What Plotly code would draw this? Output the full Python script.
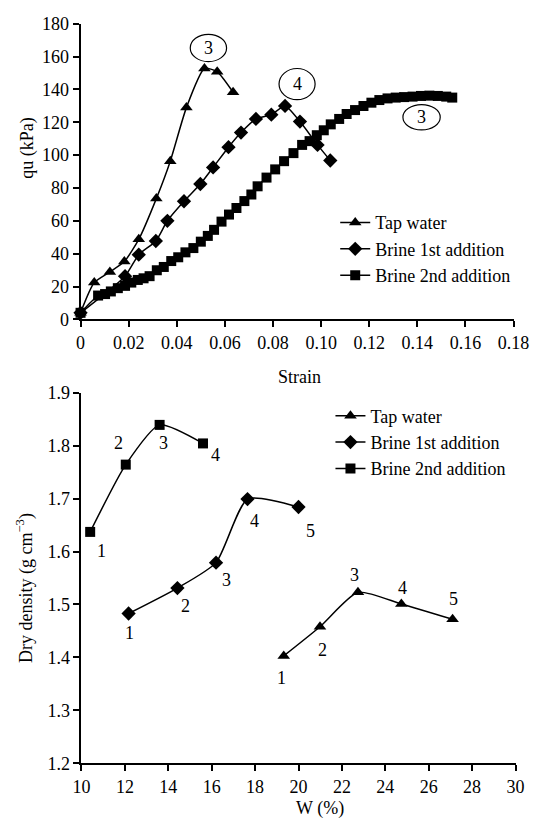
import plotly.graph_objects as go

# ---------------- Data: top chart (qu vs strain) ----------------
tap_strain = [0, 0.0057, 0.0122, 0.0182, 0.0242, 0.0315, 0.0373, 0.044, 0.0515, 0.0568, 0.0634]
tap_qu = [4, 22.4, 28.9, 35.2, 48.7, 73.5, 96.3, 128.9, 152.7, 150.7, 138.3]

b1_strain = [0, 0.0185, 0.0242, 0.0313, 0.0361, 0.043, 0.0498, 0.0551, 0.0615, 0.0667,
             0.0729, 0.0793, 0.085, 0.0912, 0.0985, 0.1038]
b1_qu = [4, 26.3, 39.4, 47.7, 60.0, 71.9, 82.4, 92.5, 104.8, 113.7,
         122.0, 124.6, 129.9, 120.4, 106.2, 96.7]

b2_strain = [0, 0.0073, 0.0102, 0.0126, 0.0155, 0.0185, 0.0211, 0.0238, 0.0262, 0.0287,
             0.0317, 0.0346, 0.0377, 0.0406, 0.0436, 0.0469, 0.050, 0.0529, 0.0555, 0.0586,
             0.0617, 0.0648, 0.0681, 0.071, 0.0736, 0.0773, 0.0809, 0.0846, 0.0885, 0.0921,
             0.0952, 0.0982, 0.1011, 0.104, 0.1075, 0.1106, 0.1141, 0.1176, 0.1209, 0.1242,
             0.1276, 0.131, 0.1345, 0.138, 0.1415, 0.145, 0.1485, 0.152, 0.1545]
b2_qu = [4, 14.5, 15.4, 17.0, 19.0, 20.4, 22.4, 24.0, 25.0, 26.3,
         29.9, 31.9, 35.5, 37.8, 40.8, 43.4, 47.3, 50.8, 54.5, 59.5,
         63.8, 67.8, 72.0, 76.0, 81.0, 86.3, 91.3, 96.3, 101.2, 106.2,
         108.5, 112.1, 115.1, 118.7, 122.0, 125.0, 127.4, 129.9, 131.9, 133.5,
         134.5, 135.0, 135.3, 135.6, 136.0, 136.2, 136.0, 135.6, 135.0]

# circled peak labels (text, strain range, qu range)
circ_text = ["3", "4", "3"]
circ_x0 = [0.0456, 0.0825, 0.1340]
circ_x1 = [0.0607, 0.0975, 0.1495]
circ_y0 = [156.9, 133.7, 115.3]
circ_y1 = [173.5, 152.7, 130.7]

top_xticks = [0, 0.02, 0.04, 0.06, 0.08, 0.10, 0.12, 0.14, 0.16, 0.18]
top_xticktext = ["0", "0.02", "0.04", "0.06", "0.08", "0.10", "0.12", "0.14", "0.16", "0.18"]
top_yticks = [0, 20, 40, 60, 80, 100, 120, 140, 160, 180]

# ---------------- Data: bottom chart (dry density vs W) ----------------
tapW = [19.32, 20.99, 22.74, 24.74, 27.1]
tapD = [1.403, 1.458, 1.523, 1.501, 1.472]
b1W = [12.17, 14.42, 16.2, 17.65, 20.0]
b1D = [1.483, 1.531, 1.579, 1.699, 1.684]
b2W = [10.4, 12.04, 13.6, 15.6]
b2D = [1.637, 1.764, 1.839, 1.804]

bot_xticks = [10, 12, 14, 16, 18, 20, 22, 24, 26, 28, 30]
bot_yticks = [1.2, 1.3, 1.4, 1.5, 1.6, 1.7, 1.8, 1.9]
bot_yticktext = ["1.2", "1.3", "1.4", "1.5", "1.6", "1.7", "1.8", "1.9"]

# label offsets in px (dx, dy) for point numbers
tap_off = [(-2, -22), (3, -23), (-3, 17), (1, 16), (1, 20)]
b1_off = [(1, -20), (8, -18), (10, -17), (7, -22), (12, -24)]
b2_off = [(11, -19), (-7, 22), (4, -18), (12, -12)]

FONT = "Liberation Serif"
FS = 18
W, H = 542, 831

def px2x(p):
    return p / W

def px2y(p):
    return 1 - p / H

fig = go.Figure()

line = dict(color="black", width=1.5, shape="spline", smoothing=0.6)

fig.add_trace(go.Scatter(x=tap_strain, y=tap_qu, mode="lines+markers", name="Tap water",
                         line=line, marker=dict(symbol="triangle-up", size=11, color="black"),
                         xaxis="x", yaxis="y", legend="legend", cliponaxis=False))
fig.add_trace(go.Scatter(x=b1_strain, y=b1_qu, mode="lines+markers", name="Brine 1st addition",
                         line=line, marker=dict(symbol="diamond", size=11, color="black"),
                         xaxis="x", yaxis="y", legend="legend", cliponaxis=False))
fig.add_trace(go.Scatter(x=b2_strain, y=b2_qu, mode="lines+markers", name="Brine 2nd addition",
                         line=line, marker=dict(symbol="square", size=10, color="black"),
                         xaxis="x", yaxis="y", legend="legend", cliponaxis=False))

fig.add_trace(go.Scatter(x=tapW, y=tapD, mode="lines+markers", name="Tap water",
                         line=line, marker=dict(symbol="triangle-up", size=11, color="black"),
                         xaxis="x2", yaxis="y2", legend="legend2", cliponaxis=False))
fig.add_trace(go.Scatter(x=b1W, y=b1D, mode="lines+markers", name="Brine 1st addition",
                         line=line, marker=dict(symbol="diamond", size=11, color="black"),
                         xaxis="x2", yaxis="y2", legend="legend2", cliponaxis=False))
fig.add_trace(go.Scatter(x=b2W, y=b2D, mode="lines+markers", name="Brine 2nd addition",
                         line=line, marker=dict(symbol="square", size=10, color="black"),
                         xaxis="x2", yaxis="y2", legend="legend2", cliponaxis=False))

tfont = dict(family=FONT, size=FS, color="black")
annotations = []
shapes = []
for t, x0, x1, y0, y1 in zip(circ_text, circ_x0, circ_x1, circ_y0, circ_y1):
    shapes.append(dict(type="circle", xref="x", yref="y", x0=x0, x1=x1, y0=y0, y1=y1,
                       line=dict(color="black", width=1.2), fillcolor="white"))
    annotations.append(dict(x=(x0 + x1) / 2, y=(y0 + y1) / 2, xref="x", yref="y", text=t,
                            xanchor="center", yanchor="middle",
                            showarrow=False, font=tfont))

for xs, ys, offs in [(tapW, tapD, tap_off), (b1W, b1D, b1_off), (b2W, b2D, b2_off)]:
    for i, (xv, yv) in enumerate(zip(xs, ys)):
        dx, dy = offs[i]
        annotations.append(dict(x=xv, y=yv, xref="x2", yref="y2", text=str(i + 1),
                                xanchor="center", yanchor="middle",
                                showarrow=False, xshift=dx, yshift=dy, font=tfont))

# axis titles
annotations += [
    dict(x=px2x(19), y=px2y(141), xref="paper", yref="paper", text="qu (kPa)", textangle=-90,
         xanchor="center", yanchor="middle", showarrow=False, font=tfont),
    dict(x=px2x(305), y=px2y(376), xref="paper", yref="paper", text="Strain",
         xanchor="center", yanchor="middle", showarrow=False, font=tfont),
    dict(x=px2x(17), y=px2y(592), xref="paper", yref="paper",
         text="Dry density (g cm<sup>−3</sup>)", textangle=-90,
         xanchor="center", yanchor="middle", showarrow=False, font=tfont),
    dict(x=px2x(326), y=px2y(818), xref="paper", yref="paper", text="W (%)",
         xanchor="center", yanchor="middle", showarrow=False, font=tfont),
]

axis_common = dict(showline=True, linecolor="black", linewidth=2, ticks="outside",
                   ticklen=6, tickwidth=1.5, tickcolor="black", showgrid=False, zeroline=False,
                   tickfont=tfont, mirror=False)

fig.update_layout(
    width=W, height=H, margin=dict(l=0, r=0, t=0, b=0),
    paper_bgcolor="white", plot_bgcolor="white",
    font=dict(family=FONT, color="black"),
    showlegend=True,
    xaxis=dict(domain=[px2x(75), px2x(529)], range=[0, 0.18], tickvals=top_xticks,
               ticktext=top_xticktext, anchor="y", **axis_common),
    yaxis=dict(domain=[px2y(317), px2y(14)], range=[0, 180], tickvals=top_yticks,
               anchor="x", **axis_common),
    xaxis2=dict(domain=[px2x(76), px2x(531)], range=[10, 30], tickvals=bot_xticks,
                anchor="y2", ticklabelstandoff=0, **axis_common),
    yaxis2=dict(domain=[px2y(772), px2y(392)], range=[1.2, 1.9], tickvals=bot_yticks,
                ticktext=bot_yticktext, anchor="x2", **axis_common),
    legend=dict(x=px2x(342), y=px2y(199), xanchor="left", yanchor="top",
                bgcolor="rgba(0,0,0,0)", font=dict(family=FONT, size=18, color="black"),
                tracegroupgap=0),
    legend2=dict(x=px2x(337), y=px2y(397), xanchor="left", yanchor="top",
                 bgcolor="rgba(0,0,0,0)", font=dict(family=FONT, size=18, color="black"),
                 tracegroupgap=0),
    shapes=shapes, annotations=annotations,
)

fig.write_html("out.html", config={"displayModeBar": False},
               post_script="document.body.style.margin='0px';document.body.style.overflow='hidden';")
